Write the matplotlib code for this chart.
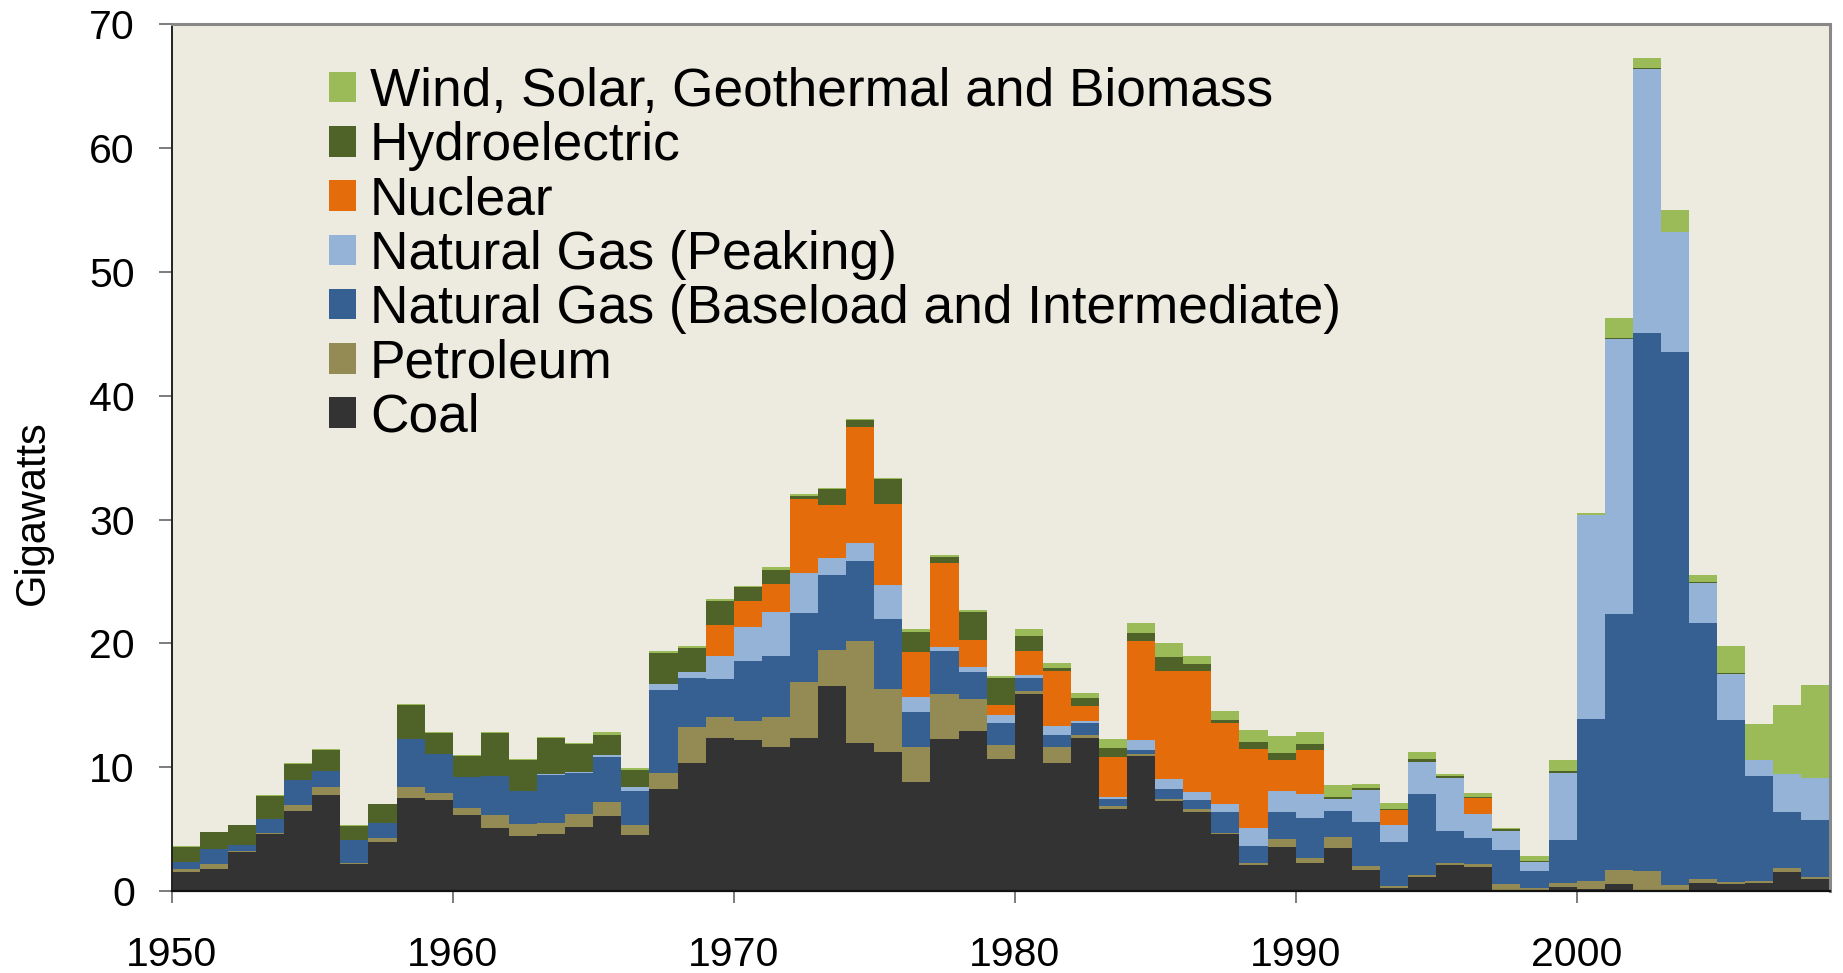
import matplotlib
matplotlib.use("Agg")
import matplotlib.pyplot as plt
import numpy as np

plt.rcParams['font.family'] = ['Liberation Sans', 'DejaVu Sans']

# capacity additions by year, GW
years = list(range(1950, 2009))

coal = [1.5, 1.8, 3.12, 4.6, 6.49, 7.78, 2.15, 3.98, 7.51, 7.38,
        6.11, 5.12, 4.47, 4.58, 5.17, 6.03, 4.55, 8.24, 10.37, 12.36,
        12.22, 11.66, 12.36, 16.59, 11.93, 11.23, 8.8, 12.28, 12.95, 10.64,
        15.89, 10.37, 12.39, 6.65, 10.93, 7.24, 6.38, 4.58, 2.13, 3.58,
        2.29, 3.5, 1.72, 0.2, 1.13, 2.07, 1.97, 0.05, 0.05, 0.32,
        0.16, 0.54, 0.05, 0.05, 0.67, 0.54, 0.62, 1.56, 1.0]
petroleum = [0.25, 0.38, 0.08, 0.05, 0.43, 0.65, 0.11, 0.3, 0.89, 0.56,
             0.59, 1.05, 0.94, 0.91, 1.05, 1.16, 0.75, 1.29, 2.85, 1.67,
             1.48, 2.42, 4.55, 2.88, 8.29, 5.11, 2.86, 3.66, 2.59, 1.15,
             0.26, 1.29, 0.24, 0.22, 0.11, 0.16, 0.22, 0.13, 0.13, 0.59,
             0.35, 0.83, 0.27, 0.2, 0.16, 0.19, 0.21, 0.49, 0.17, 0.3,
             0.65, 1.18, 1.57, 0.43, 0.27, 0.16, 0.19, 0.27, 0.13]
gas_base = [0.62, 1.19, 0.49, 1.19, 2.05, 1.24, 1.83, 1.24, 3.85, 3.13,
            2.54, 3.09, 2.69, 3.85, 3.28, 3.66, 2.75, 6.71, 4.01, 3.09,
            4.85, 4.9, 5.52, 6.08, 6.46, 5.63, 2.8, 3.47, 2.18, 1.81,
            1.08, 0.91, 0.97, 0.59, 0.35, 0.84, 0.72, 1.67, 1.37, 2.21,
            3.28, 2.16, 3.61, 3.56, 6.55, 2.56, 2.13, 2.77, 1.4, 3.5,
            13.06, 20.68, 43.45, 43.06, 20.73, 13.09, 8.51, 4.58, 4.63]
gas_peak = [0, 0, 0, 0, 0, 0, 0, 0, 0, 0,
            0, 0.03, 0, 0.08, 0.11, 0.16, 0.32, 0.48, 0.49, 1.86,
            2.77, 3.53, 3.23, 1.38, 1.4, 2.72, 1.21, 0.3, 0.4, 0.59,
            0.19, 0.76, 0.16, 0.13, 0.78, 0.81, 0.65, 0.62, 1.49, 1.7,
            1.89, 0.94, 2.56, 1.34, 2.61, 4.31, 1.91, 1.56, 0.75, 5.44,
            16.47, 22.16, 21.33, 9.66, 3.24, 3.77, 1.26, 3.01, 3.34]
nuclear = [0, 0, 0, 0, 0, 0, 0, 0, 0, 0,
           0, 0, 0, 0, 0, 0, 0, 0, 0, 2.53,
           2.1, 2.29, 6.03, 4.28, 9.43, 6.54, 3.66, 6.8, 2.13, 0.83,
           1.97, 4.47, 1.18, 3.26, 8.05, 8.72, 9.83, 6.57, 6.38, 2.5,
           3.61, 0, 0, 1.22, 0, 0, 1.27, 0, 0, 0,
           0, 0, 0, 0, 0, 0, 0, 0, 0]
hydro = [1.2, 1.37, 1.61, 1.86, 1.29, 1.72, 1.19, 1.48, 2.77, 1.72,
         1.66, 3.48, 2.45, 2.94, 2.24, 1.62, 1.4, 2.48, 1.94, 1.91,
         1.14, 1.16, 0.19, 1.23, 0.55, 2.02, 1.62, 0.45, 2.31, 2.16,
         1.21, 0.24, 0.62, 0.67, 0.65, 1.16, 0.5, 0.24, 0.56, 0.57,
         0.43, 0.16, 0.16, 0.1, 0.21, 0.13, 0.1, 0.11, 0.05, 0.13,
         0.05, 0.1, 0.05, 0.06, 0.08, 0.05, 0.03, 0.03, 0.03]
renewables = [0.05, 0.05, 0.06, 0.05, 0.08, 0.08, 0.05, 0.05, 0.08, 0.08,
              0.08, 0.05, 0.08, 0.08, 0.1, 0.19, 0.17, 0.16, 0.16, 0.17,
              0.1, 0.21, 0.16, 0.09, 0.1, 0.14, 0.19, 0.15, 0.14, 0.19,
              0.54, 0.4, 0.41, 0.76, 0.75, 1.07, 0.7, 0.73, 0.97, 1.37,
              0.97, 1.0, 0.35, 0.49, 0.54, 0.16, 0.3, 0.14, 0.38, 0.89,
              0.17, 1.64, 0.81, 1.75, 0.51, 2.21, 2.88, 5.6, 7.51]

series = [
    ("Coal", coal, "#333333"),
    ("Petroleum", petroleum, "#948A54"),
    ("Natural Gas (Baseload and Intermediate)", gas_base, "#366092"),
    ("Natural Gas (Peaking)", gas_peak, "#95B3D7"),
    ("Nuclear", nuclear, "#E46C0A"),
    ("Hydroelectric", hydro, "#4F6228"),
    ("Wind, Solar, Geothermal and Biomass", renewables, "#9BBB59"),
]

fig = plt.figure(figsize=(18.43, 9.73), dpi=100)
ax = fig.add_axes([0.0932, 0.0843, 0.8995, 0.8907])
ax.set_facecolor("#EDEBE0")

bottom = np.zeros(len(years))
handles = []
for name, vals, col in series:
    b = ax.bar(years, vals, width=1.0, bottom=bottom, align="edge",
               color=col, linewidth=0, label=name)
    handles.append(b)
    bottom += np.array(vals)

ax.set_xlim(1950, 2009)
ax.set_ylim(0, 70)
ax.set_xticks(range(1950, 2001, 10))
ax.set_yticks(range(0, 71, 10))
ax.tick_params(axis="x", labelsize=29.5, length=8.5, width=1.2, color="#666666",
               direction="out", pad=24)
ax.tick_params(axis="y", labelsize=29.5, length=9.5, width=1.2, color="#666666",
               direction="out", pad=17)

for s in ["top", "right"]:
    ax.spines[s].set_color("#888888")
    ax.spines[s].set_linewidth(2.2)
ax.spines["left"].set_color("#222222")
ax.spines["left"].set_linewidth(1.4)
ax.spines["bottom"].set_color("#111111")
ax.spines["bottom"].set_linewidth(1.6)

fig.text(33 / 1843, 1 - 513 / 973, "Gigawatts", rotation=90, fontsize=30,
         ha="center", va="center")

leg = ax.legend(handles[::-1], [s[0] for s in series][::-1],
                loc="upper left", bbox_to_anchor=(329 / 1843, 1 - 67 / 973),
                bbox_transform=fig.transFigure, frameon=False,
                fontsize=38.3, borderpad=0, borderaxespad=0,
                handlelength=0.51, handleheight=0.51, handletextpad=0.26,
                labelspacing=0.08)

fig.savefig("out.png", dpi=100)
